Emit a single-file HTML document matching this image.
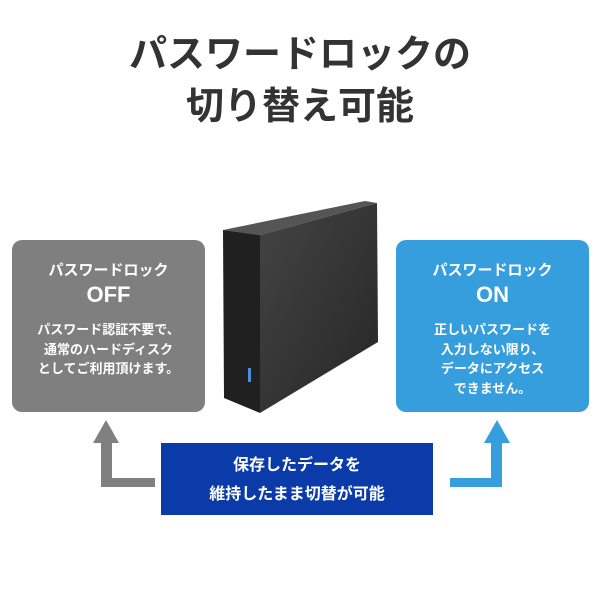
<!DOCTYPE html>
<html><head><meta charset="utf-8"><style>
body{margin:0;width:600px;height:600px;background:#fff;position:relative;overflow:hidden;font-family:"Liberation Sans","Noto Sans CJK JP",sans-serif;}
.t{position:absolute;left:0;width:600px;text-align:center;color:#333;font-weight:bold;font-size:38px;line-height:40px;}
.box{position:absolute;top:240px;width:193px;height:172px;border-radius:10px;color:#fff;text-align:center;font-weight:bold;}
.h{position:absolute;top:22px;width:100%;font-size:15px;line-height:18px;}
.big{position:absolute;top:42px;width:100%;font-size:22px;line-height:26px;}
.d{position:absolute;top:80px;width:100%;font-size:13px;line-height:19.5px;}
</style></head><body>
<div class="t" style="top:35px">パスワードロックの</div>
<div class="t" style="top:87px">切り替え可能</div>
<div class="box" style="left:12px;background:#7f7f7f"><div class="h">パスワードロック</div><div class="big">OFF</div><div class="d">パスワード認証不要で、<br>通常のハードディスク<br>としてご利用頂けます。</div></div>
<div class="box" style="left:396px;background:#379ede"><div class="h">パスワードロック</div><div class="big">ON</div><div class="d">正しいパスワードを<br>入力しない限り、<br>データにアクセス<br>できません。</div></div>
<svg style="position:absolute;left:0;top:0" width="600" height="600">
<defs><linearGradient id="g" x1="0" y1="0" x2="1" y2="1"><stop offset="0" stop-color="#444"/><stop offset="1" stop-color="#262626"/></linearGradient></defs>
<polygon points="223,230 260,235 377,203 365,201" fill="#555"/>
<polygon points="260,235 377,203 378,342 260,413" fill="url(#g)"/>
<polygon points="223,230 260,235 260,413 224,398" fill="#202020"/>
<rect x="248" y="368" width="3" height="14" fill="#4a8de0"/>
<polygon points="101,487 101,443 93,443 106,420 119,443 112,443 112,478 155,478 155,487" fill="#808080"/>
<polygon points="450,478 491,478 491,443 484,443 497,420 510,443 502,443 502,487 450,487" fill="#379ede"/>
</svg>
<div style="position:absolute;left:161px;top:443px;width:272px;height:72px;background:#0a3ba8;color:#fff;font-weight:bold;font-size:16px;line-height:29px;text-align:center;padding-top:8px;box-sizing:border-box">保存したデータを<br>維持したまま切替が可能</div>
</body></html>
